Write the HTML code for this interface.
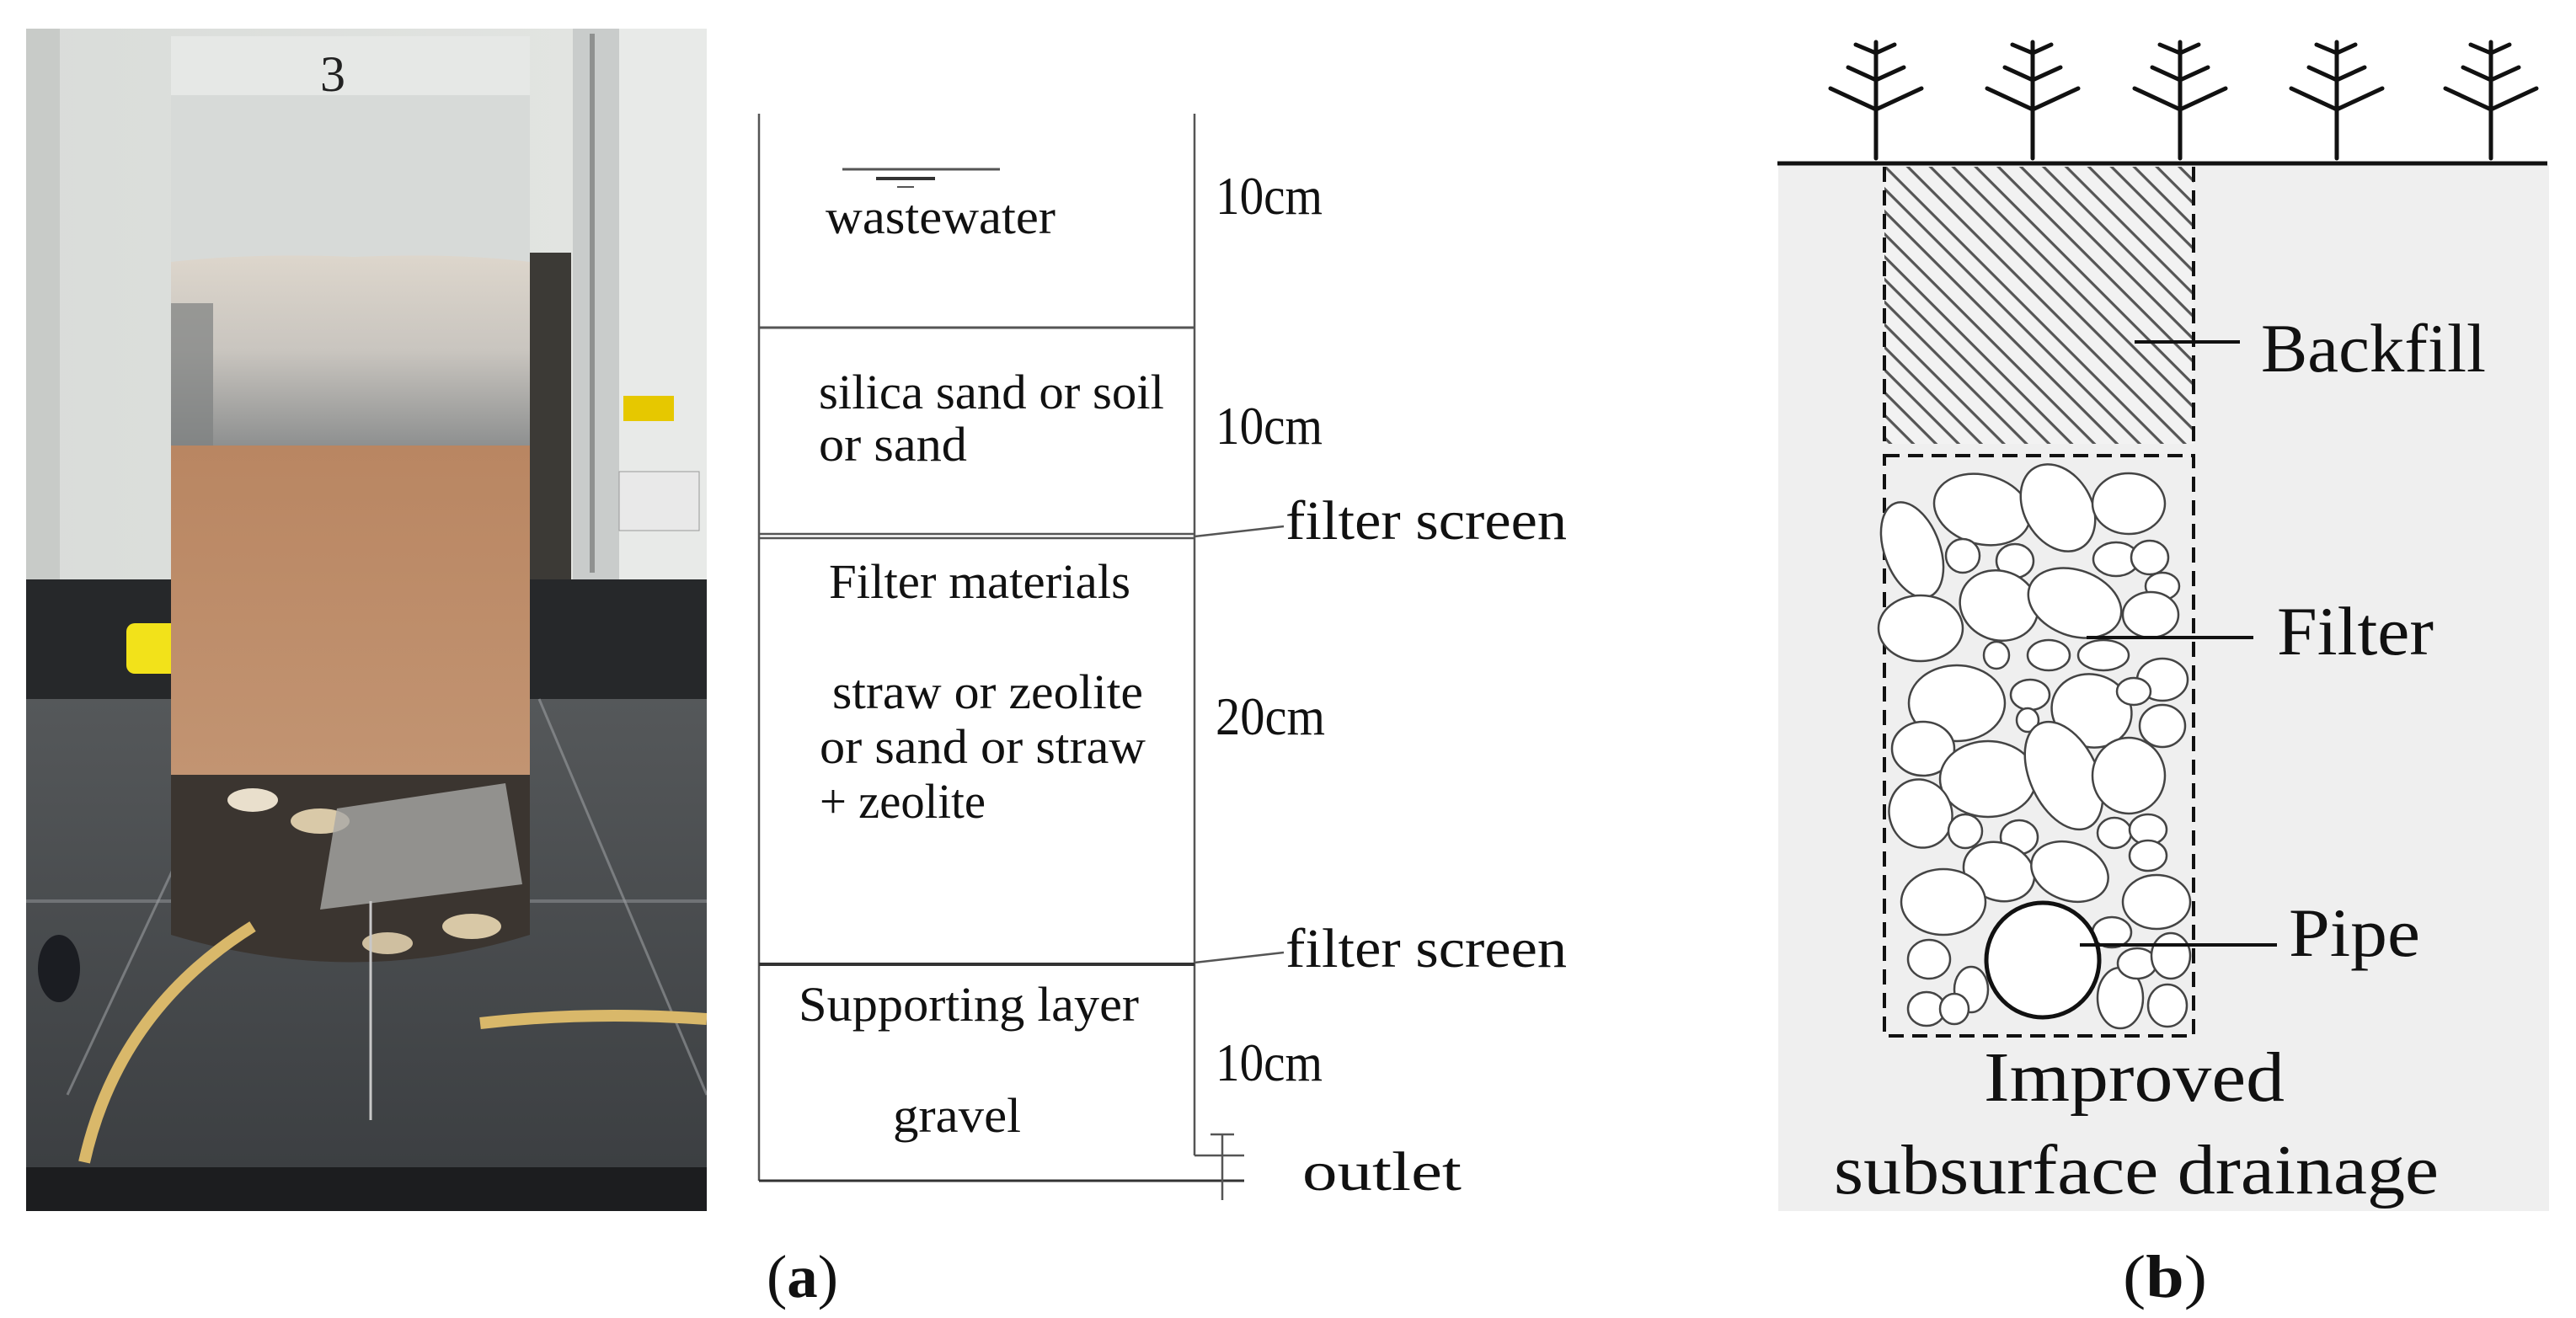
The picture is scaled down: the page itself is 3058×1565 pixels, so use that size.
<!DOCTYPE html>
<html><head><meta charset="utf-8">
<style>
html,body{margin:0;padding:0;background:#fff;}
svg{display:block;}
text{font-family:"Liberation Serif",serif;fill:#111;}
</style></head>
<body>
<svg width="3058" height="1565" viewBox="0 0 3058 1565" xmlns="http://www.w3.org/2000/svg">
<defs>
  <linearGradient id="wall" x1="0" x2="1">
    <stop offset="0" stop-color="#d9dcd9"/><stop offset="1" stop-color="#e4e6e3"/>
  </linearGradient>
  <linearGradient id="plate" x1="0" y1="0" x2="0" y2="1">
    <stop offset="0" stop-color="#55585a"/><stop offset="1" stop-color="#3c3f42"/>
  </linearGradient>
  <linearGradient id="brown" x1="0" y1="0" x2="0" y2="1">
    <stop offset="0" stop-color="#b98662"/><stop offset="1" stop-color="#c29472"/>
  </linearGradient>
  <linearGradient id="white" x1="0" y1="0" x2="0" y2="1">
    <stop offset="0" stop-color="#ddd6cc"/><stop offset="0.5" stop-color="#c9c5bf"/><stop offset="1" stop-color="#8e9090"/>
  </linearGradient>
  <pattern id="hatch" width="19" height="19" patternUnits="userSpaceOnUse" patternTransform="rotate(45)">
    <rect width="19" height="19" fill="#f2f2f2"/>
    <rect x="0" y="0" width="19" height="3.2" fill="#555"/>
  </pattern>
  <clipPath id="photoclip"><rect x="31" y="34" width="808" height="1404"/></clipPath>
</defs>

<!-- ================= PHOTO ================= -->
<g clip-path="url(#photoclip)">
  <rect x="31" y="34" width="808" height="1404" fill="url(#wall)"/>
  <rect x="31" y="34" width="40" height="660" fill="#c8cbc8"/>
  <rect x="680" y="34" width="55" height="660" fill="#c9cccb"/>
  <rect x="700" y="40" width="6" height="640" fill="#555" opacity="0.5"/>
  <rect x="735" y="34" width="104" height="660" fill="#e8eae8"/>
  <rect x="740" y="470" width="60" height="30" fill="#e6c800"/>
  <rect x="735" y="560" width="95" height="70" fill="#e9e9e9" stroke="#999"/>
  <rect x="620" y="300" width="58" height="390" fill="#3c3a36"/>
  <rect x="31" y="688" width="808" height="145" fill="#26282a"/>
  <rect x="31" y="830" width="808" height="556" fill="url(#plate)"/>
  <line x1="31" y1="1070" x2="839" y2="1070" stroke="#8a8d90" stroke-width="4" opacity="0.6"/>
  <line x1="80" y1="1300" x2="300" y2="830" stroke="#9a9da0" stroke-width="3" opacity="0.6"/>
  <line x1="640" y1="830" x2="839" y2="1300" stroke="#9a9da0" stroke-width="3" opacity="0.6"/>
  <rect x="31" y="1386" width="808" height="52" fill="#1c1d1f"/>
  <rect x="150" y="740" width="100" height="60" rx="10" fill="#f2e21a"/>
  <ellipse cx="70" cy="1150" rx="25" ry="40" fill="#1b1d22"/>
  <rect x="203" y="43" width="426" height="270" fill="#d7dad8"/>
  <rect x="203" y="43" width="426" height="70" fill="#e6e8e6"/>
  <path d="M203 311 Q300 300 420 305 Q540 300 629 311 L629 529 L203 529 Z" fill="url(#white)"/>
  <rect x="203" y="360" width="50" height="170" fill="#7d8080" opacity="0.7"/>
  <rect x="203" y="529" width="426" height="395" fill="url(#brown)"/>
  <path d="M203 920 L629 920 L629 1110 Q420 1175 203 1110 Z" fill="#3b3530"/>
  <ellipse cx="300" cy="950" rx="30" ry="14" fill="#e9dfcc"/>
  <ellipse cx="380" cy="975" rx="35" ry="15" fill="#d9c9a8"/>
  <ellipse cx="560" cy="1100" rx="35" ry="15" fill="#d8c8a6"/>
  <ellipse cx="460" cy="1120" rx="30" ry="13" fill="#cfbfa0"/>
  <path d="M400 960 L600 930 L620 1050 L380 1080 Z" fill="#a9a9a6" opacity="0.8"/>
  <path d="M100 1380 Q140 1200 300 1100" fill="none" stroke="#d9b86a" stroke-width="14"/>
  <path d="M570 1215 Q700 1200 839 1210" fill="none" stroke="#d9b86a" stroke-width="14"/>
  <line x1="440" y1="1070" x2="440" y2="1330" stroke="#c8c8c8" stroke-width="3"/>
  <text x="380" y="108" style="font-size:60px;fill:#222">3</text>
</g>

<!-- ================= COLUMN DIAGRAM (a) ================= -->
<g stroke="#555" fill="none">
  <line x1="901" y1="135" x2="901" y2="1402" stroke-width="2.5"/>
  <line x1="1418" y1="135" x2="1418" y2="1372" stroke-width="2.5"/>
  <line x1="1418" y1="1372" x2="1477" y2="1372" stroke-width="2.5"/>
  <line x1="901" y1="1402" x2="1477" y2="1402" stroke-width="3" stroke="#333"/>
  <line x1="1451" y1="1347" x2="1451" y2="1425" stroke-width="2.5"/>
  <line x1="1437" y1="1347" x2="1465" y2="1347" stroke-width="2.5"/>
  <line x1="901" y1="389" x2="1418" y2="389" stroke-width="3"/>
  <line x1="901" y1="634" x2="1418" y2="634" stroke-width="2.5"/>
  <line x1="901" y1="639" x2="1418" y2="639" stroke-width="2.5"/>
  <line x1="901" y1="1145" x2="1418" y2="1145" stroke-width="4" stroke="#333"/>
  <line x1="1418" y1="637" x2="1524" y2="625" stroke-width="2.5"/>
  <line x1="1418" y1="1143" x2="1524" y2="1131" stroke-width="2.5"/>
  <line x1="1000" y1="201" x2="1187" y2="201" stroke-width="3"/>
  <line x1="1040" y1="212" x2="1110" y2="212" stroke-width="4" stroke="#333"/>
  <line x1="1065" y1="222" x2="1085" y2="222" stroke-width="2"/>
</g>
<g style="font-size:58px">
  <text x="980" y="277" textLength="273" lengthAdjust="spacingAndGlyphs">wastewater</text>
  <text x="972" y="485" textLength="410" lengthAdjust="spacingAndGlyphs">silica sand or soil</text>
  <text x="972" y="547" textLength="176" lengthAdjust="spacingAndGlyphs">or sand</text>
  <text x="984" y="710" textLength="358" lengthAdjust="spacingAndGlyphs">Filter materials</text>
  <text x="988" y="841" textLength="369" lengthAdjust="spacingAndGlyphs">straw or zeolite</text>
  <text x="973" y="906" textLength="387" lengthAdjust="spacingAndGlyphs">or sand or straw</text>
  <text x="973" y="971" textLength="197" lengthAdjust="spacingAndGlyphs">+ zeolite</text>
  <text x="948" y="1212" textLength="404" lengthAdjust="spacingAndGlyphs">Supporting layer</text>
  <text x="1060" y="1344" textLength="152" lengthAdjust="spacingAndGlyphs">gravel</text>
  <text x="1443" y="254" style="font-size:64px" textLength="127" lengthAdjust="spacingAndGlyphs">10cm</text>
  <text x="1443" y="527" style="font-size:64px" textLength="127" lengthAdjust="spacingAndGlyphs">10cm</text>
  <text x="1443" y="872" style="font-size:64px" textLength="130" lengthAdjust="spacingAndGlyphs">20cm</text>
  <text x="1443" y="1283" style="font-size:64px" textLength="127" lengthAdjust="spacingAndGlyphs">10cm</text>
  <text x="1526" y="640" style="font-size:66px" textLength="334" lengthAdjust="spacingAndGlyphs">filter screen</text>
  <text x="1526" y="1148" style="font-size:66px" textLength="334" lengthAdjust="spacingAndGlyphs">filter screen</text>
  <text x="1546" y="1413" style="font-size:66px" textLength="189" lengthAdjust="spacingAndGlyphs">outlet</text>
  <text x="910" y="1540" style="font-size:72px" textLength="85" lengthAdjust="spacingAndGlyphs">(<tspan style="font-weight:bold">a</tspan>)</text>
</g>

<!-- ================= PANEL (b) ================= -->
<rect x="2111" y="196" width="915" height="1242" fill="#efefef"/>
<line x1="2110" y1="194" x2="3024" y2="194" stroke="#111" stroke-width="5"/>
<g stroke="#111" stroke-width="5" fill="none" stroke-linecap="round">
  <g id="tree">
    <line x1="2227" y1="50" x2="2227" y2="188"/>
    <polyline points="2173,105 2227,130 2281,105"/>
    <polyline points="2194,80 2227,95 2260,80"/>
    <polyline points="2203,53 2227,63 2249,53"/>
  </g>
  <use href="#tree" x="186"/>
  <use href="#tree" x="361"/>
  <use href="#tree" x="547"/>
  <use href="#tree" x="730"/>
</g>
<rect x="2237" y="198" width="367" height="329" fill="url(#hatch)"/>
<g stroke="#111" stroke-width="4" fill="none" stroke-dasharray="18 10">
  <line x1="2237" y1="198" x2="2237" y2="527"/>
  <line x1="2604" y1="198" x2="2604" y2="527"/>
  <rect x="2237" y="541" width="367" height="689"/>
</g>
<g fill="#fff" stroke="#444" stroke-width="2.5">
  <ellipse cx="2353" cy="605" rx="58" ry="41" transform="rotate(15 2353 605)"/>
  <ellipse cx="2443" cy="603" rx="40" ry="55" transform="rotate(-30 2443 603)"/>
  <ellipse cx="2527" cy="598" rx="43" ry="36"/>
  <ellipse cx="2270" cy="653" rx="33" ry="59" transform="rotate(-20 2270 653)"/>
  <ellipse cx="2330" cy="660" rx="20" ry="20"/>
  <ellipse cx="2392" cy="666" rx="22" ry="20"/>
  <ellipse cx="2512" cy="664" rx="27" ry="20"/>
  <ellipse cx="2552" cy="662" rx="22" ry="20"/>
  <ellipse cx="2567" cy="696" rx="20" ry="16"/>
  <ellipse cx="2373" cy="719" rx="47" ry="41" transform="rotate(20 2373 719)"/>
  <ellipse cx="2463" cy="716" rx="57" ry="39" transform="rotate(20 2463 716)"/>
  <ellipse cx="2280" cy="746" rx="50" ry="39"/>
  <ellipse cx="2553" cy="730" rx="33" ry="27"/>
  <ellipse cx="2370" cy="778" rx="15" ry="16"/>
  <ellipse cx="2432" cy="778" rx="25" ry="18"/>
  <ellipse cx="2497" cy="778" rx="30" ry="18"/>
  <ellipse cx="2567" cy="807" rx="30" ry="25"/>
  <ellipse cx="2323" cy="835" rx="57" ry="45"/>
  <ellipse cx="2410" cy="825" rx="23" ry="18"/>
  <ellipse cx="2483" cy="844" rx="48" ry="43" transform="rotate(20 2483 844)"/>
  <ellipse cx="2533" cy="821" rx="20" ry="16"/>
  <ellipse cx="2567" cy="862" rx="27" ry="25"/>
  <ellipse cx="2407" cy="855" rx="13" ry="14"/>
  <ellipse cx="2283" cy="889" rx="37" ry="32"/>
  <ellipse cx="2360" cy="925" rx="57" ry="45"/>
  <ellipse cx="2450" cy="921" rx="40" ry="68" transform="rotate(-25 2450 921)"/>
  <ellipse cx="2527" cy="921" rx="43" ry="45"/>
  <ellipse cx="2280" cy="966" rx="37" ry="41" transform="rotate(-20 2280 966)"/>
  <ellipse cx="2333" cy="987" rx="20" ry="20"/>
  <ellipse cx="2397" cy="994" rx="22" ry="20"/>
  <ellipse cx="2510" cy="989" rx="20" ry="18"/>
  <ellipse cx="2550" cy="985" rx="22" ry="18"/>
  <ellipse cx="2550" cy="1016" rx="22" ry="18"/>
  <ellipse cx="2373" cy="1035" rx="43" ry="34" transform="rotate(20 2373 1035)"/>
  <ellipse cx="2457" cy="1035" rx="47" ry="34" transform="rotate(20 2457 1035)"/>
  <ellipse cx="2307" cy="1071" rx="50" ry="39"/>
  <ellipse cx="2560" cy="1071" rx="40" ry="32"/>
  <ellipse cx="2507" cy="1107" rx="23" ry="18"/>
  <ellipse cx="2290" cy="1139" rx="25" ry="23"/>
  <ellipse cx="2340" cy="1175" rx="20" ry="27"/>
  <ellipse cx="2287" cy="1198" rx="22" ry="20"/>
  <ellipse cx="2320" cy="1198" rx="17" ry="18"/>
  <ellipse cx="2517" cy="1185" rx="27" ry="36"/>
  <ellipse cx="2537" cy="1144" rx="23" ry="18"/>
  <ellipse cx="2577" cy="1135" rx="23" ry="27"/>
  <ellipse cx="2573" cy="1194" rx="23" ry="25"/>
</g>
<ellipse cx="2425" cy="1140" rx="67" ry="68" fill="#fff" stroke="#111" stroke-width="5"/>
<g stroke="#111" stroke-width="4">
  <line x1="2534" y1="406" x2="2659" y2="406"/>
  <line x1="2477" y1="757" x2="2675" y2="757"/>
  <line x1="2469" y1="1122" x2="2703" y2="1122"/>
</g>
<g>
  <text x="2684" y="441" style="font-size:82px" textLength="267" lengthAdjust="spacingAndGlyphs">Backfill</text>
  <text x="2703" y="777" style="font-size:82px" textLength="186" lengthAdjust="spacingAndGlyphs">Filter</text>
  <text x="2717" y="1135" style="font-size:82px" textLength="156" lengthAdjust="spacingAndGlyphs">Pipe</text>
  <text x="2355" y="1307" style="font-size:84px" textLength="357" lengthAdjust="spacingAndGlyphs">Improved</text>
  <text x="2177" y="1417" style="font-size:84px" textLength="718" lengthAdjust="spacingAndGlyphs">subsurface drainage</text>
  <text x="2520" y="1540" style="font-size:72px" textLength="100" lengthAdjust="spacingAndGlyphs">(<tspan style="font-weight:bold">b</tspan>)</text>
</g>
</svg>
</body></html>
